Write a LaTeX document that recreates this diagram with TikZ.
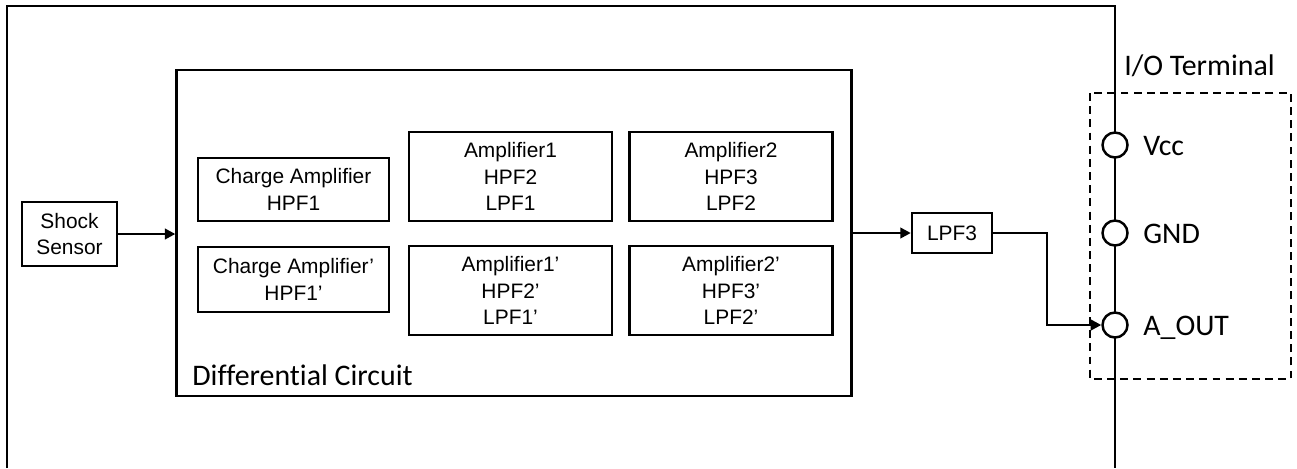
\documentclass[tikz,border=0pt]{standalone}
\usepackage{fontspec}
\usepackage{tikz}
\usetikzlibrary{arrows.meta}
\newfontfamily\arialfont{Liberation Sans}
\newfontfamily\calfont[Ligatures=NoCommon]{Carlito}

\tikzset{
  blk/.style={draw, line width=1.4pt, align=center, inner sep=0pt,
    font=\arialfont\fontsize{11.9}{15}\selectfont},
  lbl/.style={inner sep=0pt, font=\calfont\fontsize{17}{20}\selectfont},
  term/.style={circle, draw, line width=1.4pt, fill=white, minimum size=0.5cm, inner sep=0pt},
  arr/.style={line width=1.4pt, -{Triangle[length=6pt,width=6pt]}},
}

\begin{document}
\begin{tikzpicture}[x=0.02cm, y=-0.02cm]
\useasboundingbox (0,0) rectangle (1297,468);

% frame of the module
\draw[line width=1.6pt] (7,468)--(7,6)--(1115,6)--(1115,468);

\node[blk, minimum width=1.9cm, minimum height=1.28cm] (sensor) at (69.5,234) {Shock\\Sensor};
\node[blk, minimum width=13.5cm, minimum height=6.52cm] (diff) at (514,233) {};
\node[lbl, anchor=base west] (difflbl) at (192,385) {Differential Circuit};

\node[blk, minimum width=3.82cm, minimum height=1.26cm] (ca) at (293.5,189.5) {Charge Amplifier\\HPF1};
\node[blk, minimum width=3.82cm, minimum height=1.3cm] (cab) at (293.5,279.5) {Charge Amplifier’\\HPF1’};

\foreach \n/\x/\k/\h/\l in {amp1/510.5/1/2/1, amp2/731/2/3/2}{
  \node[blk, minimum width=4.06cm, minimum height=1.78cm] (\n) at (\x,176.5) {Amplifier\k\\HPF\h\\LPF\l};
  \node[blk, minimum width=4.06cm, minimum height=1.78cm] (\n b) at (\x,290.5) {Amplifier\k’\\HPF\h’\\LPF\l’};
}

\node[blk, minimum width=1.6cm, minimum height=0.8cm] (lpf) at (952,233) {LPF3};

% I/O terminal
\draw[line width=1.4pt, dash pattern=on 4.5pt off 3pt] (1090,93) rectangle (1291,379);
\node[lbl, anchor=base west] (iolbl) at (1124,75) {I/O Terminal};
\foreach \n/\y/\t in {vcc/145/Vcc, gnd/233/GND, aout/325/A\_OUT}{
  \node[term] (\n) at (1115,\y) {};
  \node[lbl, anchor=base west] (\n lbl) at (1143,\y+10) {\t};
}

\draw[arr] (sensor.east) -- (sensor.east -| diff.west);
\draw[arr] (diff.east |- lpf) -- (lpf.west);
\coordinate (bend) at (1047,233);
\draw[arr] (lpf.east) -- (bend) |- (aout.west);

\end{tikzpicture}
\end{document}
